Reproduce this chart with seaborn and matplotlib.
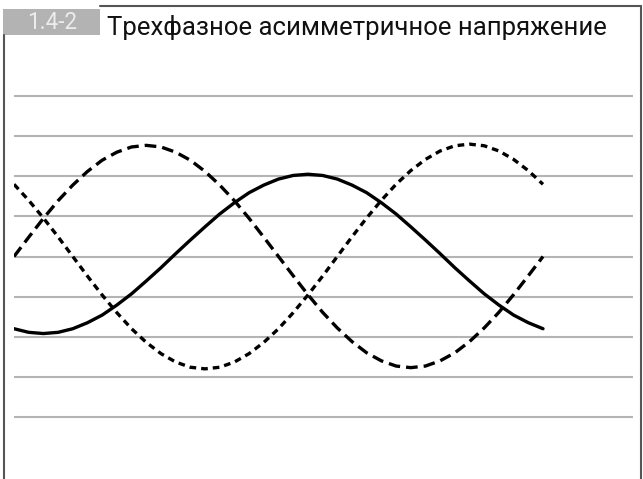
import matplotlib
matplotlib.use("Agg")
import matplotlib.pyplot as plt
from matplotlib.lines import Line2D
from matplotlib.patches import Rectangle
import seaborn as sns
import pandas as pd

# ---- data ----
angle = [0, 10, 20, 30, 40, 50, 60, 70, 80, 90, 100, 110, 120, 130, 140, 150, 160, 170, 180,
         190, 200, 210, 220, 230, 240, 250, 260, 270, 280, 290, 300, 310, 320, 330, 340, 350, 360]
phase_a = [-1.80, -1.89, -1.92, -1.89, -1.80, -1.65, -1.46, -1.21, -0.93, -0.61, -0.28, 0.07,
           0.41, 0.74, 1.06, 1.34, 1.59, 1.78, 1.93, 2.02, 2.05, 2.02, 1.93, 1.78, 1.59, 1.34,
           1.06, 0.74, 0.41, 0.07, -0.28, -0.61, -0.93, -1.21, -1.46, -1.65, -1.80]
phase_b = [0.00, 0.48, 0.95, 1.39, 1.78, 2.12, 2.40, 2.60, 2.73, 2.77, 2.73, 2.60, 2.40, 2.12,
           1.78, 1.39, 0.95, 0.48, 0.00, -0.48, -0.95, -1.39, -1.78, -2.12, -2.40, -2.60, -2.73,
           -2.77, -2.73, -2.60, -2.40, -2.12, -1.78, -1.39, -0.95, -0.48, 0.00]
phase_c = [1.80, 1.40, 0.96, 0.49, 0.00, -0.49, -0.96, -1.40, -1.80, -2.14, -2.42, -2.63, -2.76,
           -2.80, -2.76, -2.63, -2.42, -2.14, -1.80, -1.40, -0.96, -0.49, 0.00, 0.49, 0.96, 1.40,
           1.80, 2.14, 2.42, 2.63, 2.76, 2.80, 2.76, 2.63, 2.42, 2.14, 1.80]
grid_levels = [-4, -3, -2, -1, 0, 1, 2, 3, 4]
badge_text = "1.4-2"
title_text = "Трехфазное асимметричное напряжение"

df = pd.concat([
    pd.DataFrame({"angle": angle, "value": phase_a, "phase": "A"}),
    pd.DataFrame({"angle": angle, "value": phase_b, "phase": "B"}),
    pd.DataFrame({"angle": angle, "value": phase_c, "phase": "C"}),
], ignore_index=True)

sns.set_style("white")
plt.rcParams["font.family"] = ["Liberation Sans Narrow", "Roboto", "DejaVu Sans"]

W, H = 643, 479
fig = plt.figure(figsize=(W / 100, H / 100), dpi=100)

def fx(px):
    return px / W

def fy(py):
    return 1 - py / H

# axes: x pixels 14..633, y grid 96..417
unit = (417 - 96) / 8
top_px = 256.5 - 4.5 * unit
bot_px = 256.5 + 4.5 * unit
ax = fig.add_axes([fx(14), fy(bot_px), fx(633) - fx(14), fy(top_px) - fy(bot_px)])

sns.lineplot(data=df, x="angle", y="value", style="phase",
             dashes={"A": "", "B": (3.5, 1.8), "C": (2.0, 1.5)},
             color="black", linewidth=2.4, legend=False, ax=ax, zorder=3)

ax.set_xlim(0, 360 * 619 / 529)
ax.set_ylim(-4.5, 4.5)
ax.set_yticks(grid_levels)
ax.set_xticks([])
ax.set_yticklabels([])
ax.tick_params(length=0)
ax.grid(True, axis="y", color="#b4b4b4", linewidth=1.5)
ax.set_xlabel("")
ax.set_ylabel("")
for s in ax.spines.values():
    s.set_visible(False)
ax.patch.set_alpha(0)

# frame
fc = "#555555"
lw = 1.5
fig.add_artist(Line2D([fx(4), fx(4)], [fy(35), fy(H + 5)], color=fc, lw=lw))
fig.add_artist(Line2D([fx(100), fx(641)], [fy(6), fy(6)], color=fc, lw=lw))
fig.add_artist(Line2D([fx(641), fx(641)], [fy(6), fy(H + 5)], color=fc, lw=lw))

# badge
fig.add_artist(Rectangle((fx(3), fy(35)), fx(100) - fx(3), fy(9) - fy(35),
                         facecolor="#b3b3b3", edgecolor="none"))
renderer = fig.canvas.get_renderer()

def fit_text(x_px, base_px, s, target_w, color, size0=16, weight="normal"):
    t = fig.text(fx(x_px), fy(base_px), s, color=color, fontsize=size0,
                 ha="left", va="baseline", fontweight=weight)
    w = t.get_window_extent(renderer).width
    t.set_fontsize(size0 * target_w / w)
    return t

fit_text(27, 29, badge_text, 50, "#ececec")
fit_text(107, 35, title_text, 501, "#111111")

fig.savefig("out.png", dpi=100)
